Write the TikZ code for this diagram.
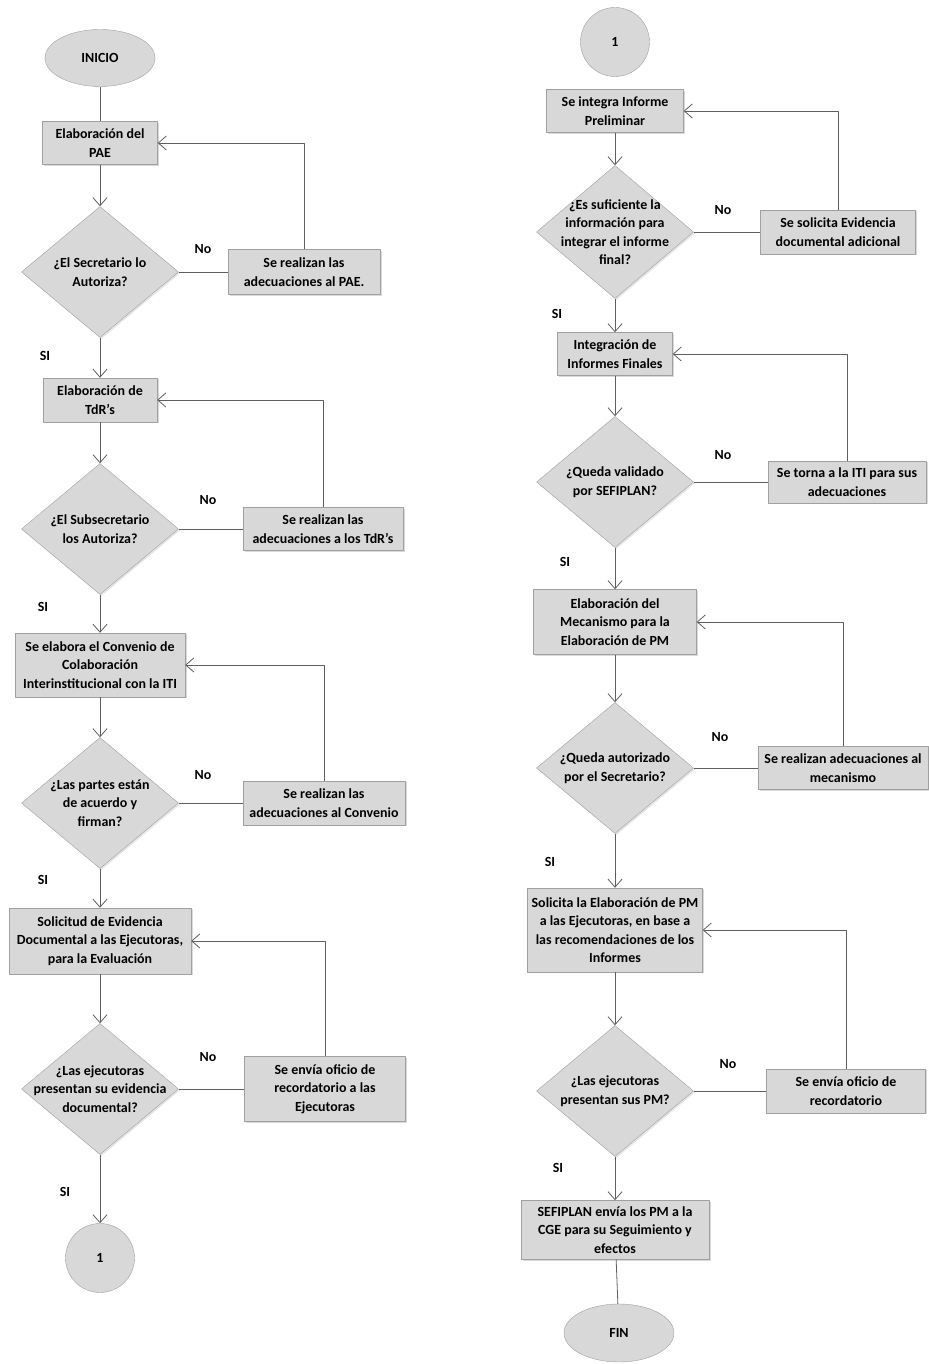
\documentclass[tikz,border=0pt]{standalone}
\usepackage{fontspec}
\setmainfont{Carlito}
\usetikzlibrary{shapes.geometric,arrows.meta,shadows}
\definecolor{boxfill}{RGB}{216,216,216}
\definecolor{boxline}{RGB}{160,160,160}
\definecolor{wire}{RGB}{95,95,95}
\begin{document}
\begin{tikzpicture}[>={Straight Barb[length=8bp,width=14bp]},line join=bevel,
  every node/.style={font=\fontsize{14}{18.5}\selectfont\bfseries},
  proc/.style={draw=boxline,fill=boxfill,rectangle,align=center,inner sep=1bp,
    drop shadow={shadow xshift=1.5bp,shadow yshift=-1.5bp,opacity=.3}},
  term/.style={draw=boxline,fill=boxfill,ellipse,minimum width=110bp,minimum height=57bp},
  conn/.style={draw=boxline,fill=boxfill,circle,minimum size=69bp},
  decision/.style={draw=boxline,fill=boxfill,diamond,minimum width=157bp,minimum height=131bp,
    inner sep=0pt,drop shadow={shadow xshift=1.5bp,shadow yshift=-1.5bp,opacity=.2},
    label={[align=center]center:{#1}}},
  tag/.style={inner sep=0pt},
  wire/.style={draw=wirecol,line width=0.8bp},
  ]
\colorlet{wirecol}{wire}
\useasboundingbox (0bp,0bp) rectangle (929bp,1364bp);
%%
\node (node_inicio) at (100bp,1306bp) [term] {INICIO};
  \node (node_pae) at (100bp,1221bp) [proc,minimum width=115bp,minimum height=43bp] {Elaboración del\\PAE};
  \node (node_dec1) at (100bp,1092bp) [decision={¿El Secretario lo\\Autoriza?}] {};
  \node (node_adj1) at (304bp,1092bp) [proc,minimum width=152bp,minimum height=45bp] {Se realizan las\\adecuaciones al PAE.};
  \node (node_no1) at (203bp,1115bp) [tag] {No};
  \node (node_si1) at (45bp,1008bp) [tag] {SI};
  \node (node_tdr) at (100bp,964bp) [proc,minimum width=114bp,minimum height=44bp] {Elaboración de\\TdR's};
  \node (node_dec2) at (100bp,835bp) [decision={¿El Subsecretario\\los Autoriza?}] {};
  \node (node_adj2) at (323bp,835bp) [proc,minimum width=160bp,minimum height=43bp] {Se realizan las\\adecuaciones a los TdR's};
  \node (node_no2) at (208bp,864bp) [tag] {No};
  \node (node_si2) at (43bp,757bp) [tag] {SI};
  \node (node_conv) at (100bp,699bp) [proc,minimum width=170bp,minimum height=64bp] {Se elabora el Convenio de\\Colaboración\\Interinstitucional con la ITI};
  \node (node_dec3) at (100bp,561bp) [decision={¿Las partes están\\de acuerdo y\\firman?}] {};
  \node (node_adj3) at (324bp,561bp) [proc,minimum width=162bp,minimum height=44bp] {Se realizan las\\adecuaciones al Convenio};
  \node (node_no3) at (203bp,589bp) [tag] {No};
  \node (node_si3) at (43bp,484bp) [tag] {SI};
  \node (node_sol) at (100bp,423bp) [proc,minimum width=182bp,minimum height=66bp] {Solicitud de Evidencia\\Documental a las Ejecutoras,\\para la Evaluación};
  \node (node_dec4) at (100bp,275bp) [decision={¿Las ejecutoras\\presentan su evidencia\\documental?}] {};
  \node (node_adj4) at (325bp,275bp) [proc,minimum width=161bp,minimum height=65bp] {Se envía oficio de\\recordatorio a las\\Ejecutoras};
  \node (node_no4) at (208bp,307bp) [tag] {No};
  \node (node_si4) at (65bp,172bp) [tag] {SI};
  \node (node_con1) at (100bp,106bp) [conn] {1};
%
  \draw [wire] (node_inicio) -- (node_pae);
  \draw [wire,->] (node_pae) -- (node_dec1);
  \draw [wire] (node_dec1.east) -- (node_adj1.west);
  \draw [wire,->] (node_adj1.north) |- (node_pae.east);
  \draw [wire,->] (node_dec1) -- (node_tdr);
  \draw [wire,->] (node_tdr) -- (node_dec2);
  \draw [wire] (node_dec2.east) -- (node_adj2.west);
  \draw [wire,->] (node_adj2.north) |- (node_tdr.east);
  \draw [wire,->] (node_dec2) -- (node_conv);
  \draw [wire,->] (node_conv) -- (node_dec3);
  \draw [wire] (node_dec3.east) -- (node_adj3.west);
  \draw [wire,->] (node_adj3.north) |- (node_conv.east);
  \draw [wire,->] (node_dec3) -- (node_sol);
  \draw [wire,->] (node_sol) -- (node_dec4);
  \draw [wire] (node_dec4.east) -- (node_adj4.west);
  \draw [wire,->] (node_adj4.north) |- (node_sol.east);
  \draw [wire,->] (node_dec4) -- (node_con1);
%%
\node (node_con2) at (615bp,1322bp) [conn] {1};
  \node (node_ipre) at (615bp,1253bp) [proc,minimum width=137bp,minimum height=43bp] {Se integra Informe\\Preliminar};
  \node (node_dec5) at (615bp,1132bp) [decision={¿Es suficiente la\\información para\\integrar el informe\\final?},minimum height=133bp] {};
  \node (node_adj5) at (838bp,1132bp) [proc,minimum width=155bp,minimum height=44bp] {Se solicita Evidencia\\documental adicional};
  \node (node_no5) at (723bp,1154bp) [tag] {No};
  \node (node_si5) at (557bp,1050bp) [tag] {SI};
  \node (node_ifin) at (615bp,1010bp) [proc,minimum width=115bp,minimum height=43bp] {Integración de\\Informes Finales};
  \node (node_dec6) at (615bp,882bp) [decision={¿Queda validado\\por SEFIPLAN?}] {};
  \node (node_adj6) at (847bp,882bp) [proc,minimum width=158bp,minimum height=42bp] {Se torna a la ITI para sus\\adecuaciones};
  \node (node_no6) at (723bp,909bp) [tag] {No};
  \node (node_si6) at (565bp,802bp) [tag] {SI};
  \node (node_mec) at (615bp,742bp) [proc,minimum width=163bp,minimum height=65bp] {Elaboración del\\Mecanismo para la\\Elaboración de PM};
  \node (node_dec7) at (615bp,596bp) [decision={¿Queda autorizado\\por el Secretario?}] {};
  \node (node_adj7) at (843bp,596bp) [proc,minimum width=170bp,minimum height=43bp] {Se realizan adecuaciones al\\mecanismo};
  \node (node_no7) at (720bp,627bp) [tag] {No};
  \node (node_si7) at (550bp,502bp) [tag] {SI};
  \node (node_spm) at (615bp,434bp) [proc,minimum width=175bp,minimum height=84bp] {Solicita la Elaboración de PM\\a las Ejecutoras, en base a\\las recomendaciones de los\\Informes};
  \node (node_dec8) at (615bp,273bp) [decision={¿Las ejecutoras\\presentan sus PM?}] {};
  \node (node_adj8) at (846bp,273bp) [proc,minimum width=159bp,minimum height=44bp] {Se envía oficio de\\recordatorio};
  \node (node_no8) at (728bp,300bp) [tag] {No};
  \node (node_si8) at (558bp,196bp) [tag] {SI};
  \node (node_cge) at (615bp,134bp) [proc,minimum width=188bp,minimum height=59bp] {SEFIPLAN envía los PM a la\\CGE para su Seguimiento y\\efectos};
  \node (node_fin) at (619bp,31bp) [term,minimum height=58bp] {FIN};
%
  \draw [wire,->] (node_ipre) -- (node_dec5);
  \draw [wire] (node_dec5.east) -- (node_adj5.west);
  \draw [wire,->] (node_adj5.north) |- (node_ipre.east);
  \draw [wire,->] (node_dec5) -- (node_ifin);
  \draw [wire,->] (node_ifin) -- (node_dec6);
  \draw [wire] (node_dec6.east) -- (node_adj6.west);
  \draw [wire,->] (node_adj6.north) |- (node_ifin.east);
  \draw [wire,->] (node_dec6) -- (node_mec);
  \draw [wire,->] (node_mec) -- (node_dec7);
  \draw [wire] (node_dec7.east) -- (node_adj7.west);
  \draw [wire,->] (node_adj7.north) |- (node_mec.east);
  \draw [wire,->] (node_dec7) -- (node_spm);
  \draw [wire,->] (node_spm) -- (node_dec8);
  \draw [wire] (node_dec8.east) -- (node_adj8.west);
  \draw [wire,->] (node_adj8.north) |- (node_spm.east);
  \draw [wire,->] (node_dec8) -- (node_cge);
  \draw [wire] (node_cge) -- (node_fin);
%
\end{tikzpicture}
\end{document}
